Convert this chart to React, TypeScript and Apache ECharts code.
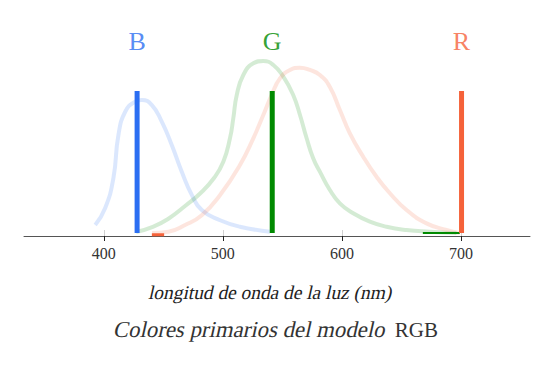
import React, { useEffect, useRef } from "react";
import * as echarts from "echarts";

// wavelengths (nm) and relative sensitivities
const blueCurve: [number, number][] = [
  [392.8, 0.056], [401.2, 0.176], [408.1, 0.387], [412.3, 0.69], [418.0, 0.854],
  [426.3, 0.925], [432.0, 0.937], [440.4, 0.901], [448.7, 0.784], [457.1, 0.62],
  [465.5, 0.432], [473.9, 0.268], [482.3, 0.162], [497.7, 0.09], [514.4, 0.044],
  [539.6, 0.009],
];
const greenCurve: [number, number][] = [
  [427.2, 0.007], [440.6, 0.042], [454.0, 0.099], [468.3, 0.19], [480.9, 0.278],
  [492.6, 0.387], [500.4, 0.502], [506.0, 0.667], [508.8, 0.808], [511.7, 0.972],
  [517.2, 1.113], [525.6, 1.195], [534.0, 1.211], [542.4, 1.183], [550.8, 1.101],
  [559.1, 0.972], [564.8, 0.831], [570.4, 0.667], [575.9, 0.526], [581.5, 0.432],
  [589.9, 0.303], [598.3, 0.209], [609.5, 0.139], [623.5, 0.08], [637.5, 0.044],
  [654.3, 0.021], [673.8, 0.009], [696.2, 0.0],
];
const redCurve: [number, number][] = [
  [440.6, 0.0], [454.3, 0.009], [468.3, 0.056], [482.3, 0.125], [497.7, 0.268],
  [514.4, 0.479], [525.6, 0.667], [534.0, 0.831], [541.0, 0.972], [548.0, 1.089],
  [556.4, 1.148], [564.8, 1.164], [573.2, 1.148], [581.5, 1.113], [589.9, 1.028],
  [598.3, 0.866], [606.7, 0.702], [617.9, 0.537], [629.1, 0.396], [640.3, 0.28],
  [654.3, 0.162], [671.1, 0.068], [687.8, 0.021], [699.0, 0.0],
];
const primaryNames = ["B", "G", "R"];
const primaryWavelengths = [428, 541.5, 700.5];
const primaryHeight = 1;
const labelLevel = 1.352;
const redBaseSegment: [number, number][] = [[440.4, -0.012], [450.7, -0.012]];
const greenBaseSegment: [number, number][] = [[668, 0.0], [699, 0.0]];
const tickValues = [400, 500, 600, 700];
const xMin = 333;
const xMax = 758;

const COLORS = ["#2b6ef2", "#008a00", "#f5623a"];
const SERIF = "'Liberation Serif', 'DejaVu Serif', 'Times New Roman', serif";

export default function App() {
  const ref = useRef<HTMLDivElement>(null);
  useEffect(() => {
    if (!ref.current) return;
    const chart = echarts.init(ref.current, null, { renderer: "svg" });
    const curves = [blueCurve, greenCurve, redCurve];
    const series: any[] = [];
    curves.forEach((c, i) => {
      series.push({
        type: "line",
        data: c,
        smooth: 0.5,
        showSymbol: false,
        symbol: "none",
        lineStyle: { color: COLORS[i], width: 4, opacity: 0.17 },
        z: 2,
      });
    });
    series.push({
      type: "line",
      data: redBaseSegment,
      symbol: "none",
      lineStyle: { color: COLORS[2], width: 3 },
      z: 3,
    });
    series.push({
      type: "line",
      data: greenBaseSegment,
      symbol: "none",
      lineStyle: { color: COLORS[1], width: 2 },
      z: 3,
    });
    primaryWavelengths.forEach((w, i) => {
      series.push({
        type: "line",
        data: [[w, 0], [w, primaryHeight]],
        symbol: "none",
        lineStyle: { color: COLORS[i], width: 5, cap: "butt" },
        z: 5,
      });
      series.push({
        type: "scatter",
        data: [[w, labelLevel]],
        symbolSize: 0,
        label: {
          show: true,
          position: "inside",
          formatter: primaryNames[i],
          color: COLORS[i],
          fontFamily: SERIF,
          fontSize: 26,
        },
        z: 6,
      });
    });

    chart.setOption({
      animation: false,
      backgroundColor: "#ffffff",
      grid: { left: 24, right: 20, top: 40, bottom: 134, containLabel: false },
      xAxis: [
        {
          type: "value",
          min: xMin,
          max: xMax,
          position: "bottom",
          axisLine: { show: true, onZero: false, lineStyle: { color: "#555", width: 1 } },
          axisTick: {
            show: true,
            customValues: tickValues,
            length: 5,
            lineStyle: { color: "#222", width: 1 },
          },
          axisLabel: {
            show: true,
            customValues: tickValues,
            color: "#333",
            fontFamily: SERIF,
            fontSize: 16,
            margin: 9,
          },
          splitLine: { show: false },
        },
        {
          type: "value",
          min: xMin,
          max: xMax,
          position: "bottom",
          axisLine: { show: false, onZero: false },
          axisTick: {
            show: true,
            inside: true,
            customValues: tickValues,
            length: 6,
            lineStyle: { color: "#d0d0d0", width: 1 },
          },
          axisLabel: { show: false },
          splitLine: { show: false },
        },
      ],
      yAxis: {
        type: "value",
        min: -0.0211,
        max: 1.3592,
        show: false,
        splitLine: { show: false },
      },
      graphic: [
        {
          type: "text",
          x: 269,
          y: 302,
          skewX: -0.22,
          style: {
            text: "longitud de onda de la luz (nm)",
            fill: "#222",
            fontFamily: SERIF,
            fontSize: 19.4,
            textAlign: "center",
            textVerticalAlign: "bottom",
          },
        },
        {
          type: "text",
          x: 112,
          y: 341,
          skewX: -0.22,
          style: {
            text: "Colores primarios del modelo",
            fill: "#333",
            fontFamily: SERIF,
            fontSize: 22.8,
            textAlign: "left",
            textVerticalAlign: "bottom",
          },
        },
        {
          type: "text",
          x: 438,
          y: 340,
          style: {
            text: "RGB",
            fill: "#333",
            fontFamily: SERIF,
            fontSize: 21,
            textAlign: "right",
            textVerticalAlign: "bottom",
          },
        },
      ],
      series,
    });
    return () => chart.dispose();
  }, []);
  return (
    <div
      ref={ref}
      style={{ position: "fixed", left: 0, top: 0, width: 550, height: 370 }}
    />
  );
}
